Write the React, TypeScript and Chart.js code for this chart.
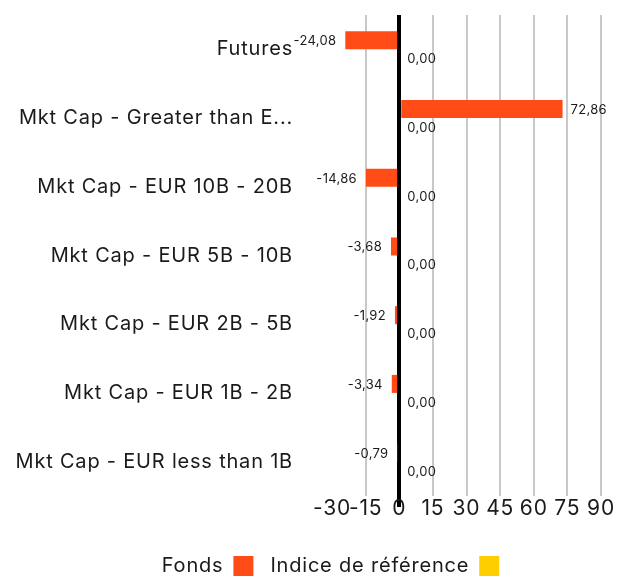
import React, { useEffect, useRef } from "react";
import { Chart, registerables } from "chart.js";

Chart.register(...registerables);

const categories = [
  "Futures",
  "Mkt Cap - Greater than E...",
  "Mkt Cap - EUR 10B - 20B",
  "Mkt Cap - EUR 5B - 10B",
  "Mkt Cap - EUR 2B - 5B",
  "Mkt Cap - EUR 1B - 2B",
  "Mkt Cap - EUR less than 1B",
];
const fondsValues = [-24.08, 72.86, -14.86, -3.68, -1.92, -3.34, -0.79];
const indiceValues = [0, 0, 0, 0, 0, 0, 0];
const seriesNames = ["Fonds", "Indice de référence"];
const xMin = -30;
const xMax = 90;
const xStep = 15;

const FONT = "Inter, 'DejaVu Sans', sans-serif";
const fmt = (v: number) => v.toFixed(2).replace(".", ",");

const spacing = {
  id: "spacing",
  beforeUpdate(chart: any) {
    chart.ctx.letterSpacing = "0.8px";
  },
  beforeDraw(chart: any) {
    chart.ctx.letterSpacing = "0.8px";
  },
  afterLayout(chart: any) {
    const lg = chart.legend;
    if (lg) {
      lg.left += 30;
      lg.right += 30;
    }
  },
};

const valueLabels = {
  id: "valueLabels",
  afterDatasetsDraw(chart: any) {
    const ctx = chart.ctx;
    ctx.save();
    ctx.letterSpacing = "0.3px";
    ctx.font = `13px ${FONT}`;
    ctx.fillStyle = "#1a1a1a";
    ctx.textBaseline = "middle";
    chart.data.datasets.forEach((ds: any, di: number) => {
      const meta = chart.getDatasetMeta(di);
      meta.data.forEach((bar: any, i: number) => {
        const v = ds.data[i];
        if (v < 0) {
          ctx.textAlign = "right";
          ctx.fillText(fmt(v), bar.x - 9, bar.y + 1);
        } else {
          ctx.textAlign = "left";
          ctx.fillText(fmt(v), bar.x + 8, bar.y + 1);
        }
      });
    });
    ctx.restore();
  },
};

export default function App() {
  const ref = useRef<HTMLCanvasElement>(null);
  useEffect(() => {
    const chart = new Chart(ref.current!, {
      type: "bar",
      data: {
        labels: categories,
        datasets: [
          {
            label: seriesNames[0],
            data: fondsValues,
            backgroundColor: "#ff4c17",
            categoryPercentage: 0.525,
            barPercentage: 1,
          },
          {
            label: seriesNames[1],
            data: indiceValues,
            backgroundColor: "#ffce00",
            categoryPercentage: 0.525,
            barPercentage: 1,
          },
        ],
      },
      options: {
        indexAxis: "y",
        animation: false,
        responsive: true,
        maintainAspectRatio: false,
        layout: { padding: { top: 15, right: 27, left: 0, bottom: -9 } },
        scales: {
          x: {
            min: xMin,
            max: xMax,
            border: { display: false },
            ticks: {
              stepSize: xStep,
              color: "#1a1a1a",
              font: { family: FONT, size: 21 },
              padding: -11,
              autoSkip: false,
              maxRotation: 0,
              minRotation: 0,
            },
            grid: {
              color: (c: any) =>
                c.tick && c.tick.value === 0
                  ? "#000"
                  : c.tick && c.tick.value === xMin
                  ? "rgba(0,0,0,0)"
                  : "#c8c8c8",
              lineWidth: (c: any) => (c.tick && c.tick.value === 0 ? 4 : 2),
              drawTicks: true,
              tickLength: 11,
              tickColor: (c: any) =>
                c.tick && c.tick.value === 0 ? "#000" : "rgba(0,0,0,0)",
              tickWidth: 4,
            },
            afterFit: (s: any) => {
              s.height = 43;
            },
          },
          y: {
            border: { display: false },
            grid: { display: false, drawTicks: false },
            ticks: {
              color: "#1a1a1a",
              font: { family: FONT, size: 20 },
              padding: 39,
              autoSkip: false,
            },
            afterFit: (s: any) => {
              s.width = 332;
              s.paddingTop = 0;
              s.paddingBottom = 0;
            },
          },
        },
        plugins: {
          legend: {
            position: "bottom",
            rtl: true,
            reverse: true,
            labels: {
              boxWidth: 20,
              boxHeight: 20,
              color: "#1a1a1a",
              font: { family: FONT, size: 20 },
              padding: 17,
            },
          },
          tooltip: { enabled: false },
        },
      },
      plugins: [spacing, valueLabels],
    });
    return () => chart.destroy();
  }, []);
  return (
    <div style={{ position: "fixed", left: 0, top: 0, width: 628, height: 577 }}>
      <canvas ref={ref} />
    </div>
  );
}
